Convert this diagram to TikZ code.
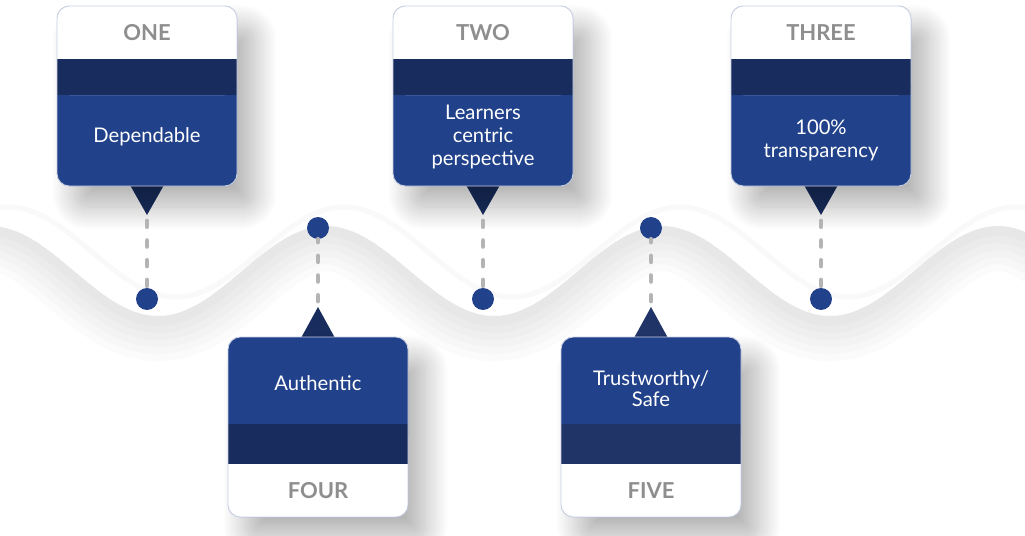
\documentclass[tikz,border=0pt]{standalone}
\usepackage{fontspec}
\setmainfont{Lato}
\usetikzlibrary{shadows.blur}

\definecolor{cardblue}{HTML}{21418A}
\definecolor{bandblue}{HTML}{182D5E}
\definecolor{bandfive}{HTML}{213468}
\definecolor{headgray}{HTML}{8E8E8E}
\definecolor{linkgray}{HTML}{B4B4B4}
\definecolor{cardline}{HTML}{C9CFE2}

\begin{document}
\begin{tikzpicture}[x=0.02cm, y=-0.02cm,
  card/.style={fill=cardblue, rounded corners=7pt,
    blur shadow={shadow xshift=10pt, shadow yshift=-12pt, shadow blur radius=13pt,
      shadow blur steps=24, shadow opacity=30}},
  head/.style={fill=white, rounded corners=7pt},
  rim/.style={draw=cardline, line width=0.5pt, rounded corners=7pt},
  headtext/.style={text=headgray, font=\bfseries\fontsize{12.5}{14}\selectfont},
  bodytext/.style={text=white, align=center, font=\fontsize{11.5}{13}\selectfont},
  dot/.style={circle, fill=cardblue, minimum size=12.5pt, inner sep=0pt},
  link/.style={linkgray, line width=2.8pt, line cap=round, dash pattern=on 3.2pt off 8pt}]

\useasboundingbox (0,0) rectangle (1025,535);

% soft wave in the background
\begin{scope}
  \clip[domain=-30:1060, samples=200] plot (\x,{271+45*cos((\x-158)*1.07143)}) -- (1060,600) -- (-30,600) -- cycle;
  \foreach \w in {48,40,32,24,16,8}
    \draw[black, opacity=0.016, line width=\w pt, domain=-30:1060, samples=200]
      plot (\x,{274+45*cos((\x-158)*1.07143)});
\end{scope}
\draw[black, opacity=0.025, line width=3pt, domain=-30:1060, samples=200]
  plot (\x+18,{252+45*cos((\x-158)*1.07143)});

% card one
\fill[bandblue] (130,185) -- (164,185) -- (147,215) -- cycle;
\fill[card] (57,6) rectangle (237,186);
\fill[head] (57,6) rectangle (237,95);
\fill[bandblue] (57,59) rectangle (237,95);
\draw[rim] (57,6) rectangle (237,186);
\node[headtext] (h1) at (147,33) {ONE};
\node[bodytext] (b1) at (147,137) {Dependable};
\coordinate (t1) at (147,221);
\node[dot] (d1) at (147,299) {};
\draw[link] (t1) -- (d1);

% card two
\fill[bandblue] (466,185) -- (500,185) -- (483,215) -- cycle;
\fill[card] (393,6) rectangle (573,186);
\fill[head] (393,6) rectangle (573,95);
\fill[bandblue] (393,59) rectangle (573,95);
\draw[rim] (393,6) rectangle (573,186);
\node[headtext] (h2) at (483,33) {TWO};
\node[bodytext] (b2) at (483,137) {Learners\\centric\\perspective};
\coordinate (t2) at (483,221);
\node[dot] (d2) at (483,299) {};
\draw[link] (t2) -- (d2);

% card three
\fill[bandblue] (804,185) -- (838,185) -- (821,215) -- cycle;
\fill[card] (731,6) rectangle (911,186);
\fill[head] (731,6) rectangle (911,95);
\fill[bandblue] (731,59) rectangle (911,95);
\draw[rim] (731,6) rectangle (911,186);
\node[headtext] (h3) at (821,33) {THREE};
\node[bodytext] (b3) at (821,140) {100\%\\transparency};
\coordinate (t3) at (821,221);
\node[dot] (d3) at (821,299) {};
\draw[link] (t3) -- (d3);

% card four
\fill[bandblue] (301,338) -- (335,338) -- (318,307) -- cycle;
\fill[card] (228,337) rectangle (408,517);
\fill[head] (228,424) rectangle (408,517);
\fill[bandblue] (228,424) rectangle (408,464);
\draw[rim] (228,337) rectangle (408,517);
\node[headtext] (h4) at (318,491) {FOUR};
\node[bodytext] (b4) at (318,383) {Authentic};
\coordinate (t4) at (318,301);
\node[dot] (d4) at (318,228) {};
\draw[link] (t4) -- (d4);

% card five
\fill[bandfive] (634,338) -- (668,338) -- (651,307) -- cycle;
\fill[card] (561,337) rectangle (741,517);
\fill[head] (561,424) rectangle (741,517);
\fill[bandfive] (561,424) rectangle (741,464);
\draw[rim] (561,337) rectangle (741,517);
\node[headtext] (h5) at (651,491) {FIVE};
\node[bodytext, font=\fontsize{11.5}{12}\selectfont] (b5) at (651,389) {Trustworthy/\\Safe};
\coordinate (t5) at (651,301);
\node[dot] (d5) at (651,228) {};
\draw[link] (t5) -- (d5);
\end{tikzpicture}
\end{document}
